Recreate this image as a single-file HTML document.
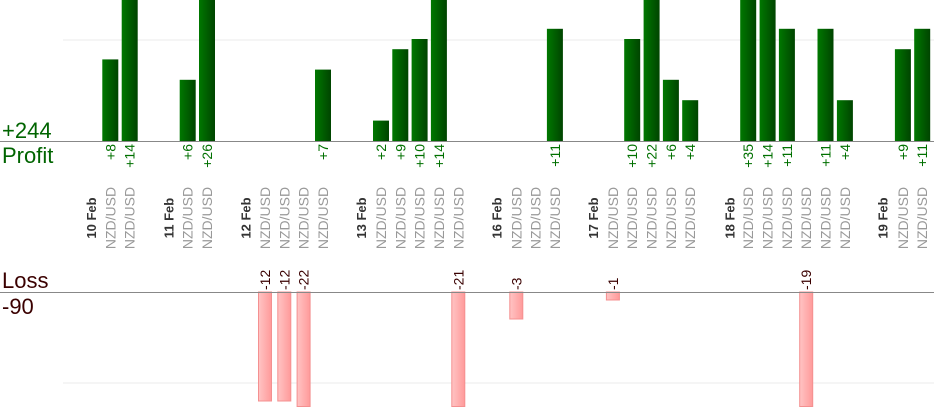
<!DOCTYPE html>
<html><head><meta charset="utf-8"><style>
html,body{margin:0;padding:0;background:#fff;}
svg{display:block;font-family:"Liberation Sans",sans-serif;}
.p{fill:#007000;font-size:14px;}
.l{fill:#3a0000;font-size:14px;}
.d{fill:#333;font-size:13px;font-weight:bold;}
.n{fill:#999;font-size:14px;}
</style></head><body>
<svg width="934" height="420" viewBox="0 0 934 420">
<defs>
<linearGradient id="g" x1="0" x2="1" y1="0" y2="0"><stop offset="0" stop-color="#007800"/><stop offset="1" stop-color="#004400"/></linearGradient>
<linearGradient id="r" x1="0" x2="1" y1="0" y2="0"><stop offset="0" stop-color="#ffc4c4"/><stop offset="1" stop-color="#ff9a9a"/></linearGradient>
</defs>
<line x1="63" y1="40" x2="934" y2="40" stroke="#ebebeb"/>
<line x1="63" y1="383" x2="934" y2="383" stroke="#ebebeb"/>
<g fill="url(#g)">
<rect x="102.3" y="59.4" width="16" height="81.6"/>
<rect x="121.7" y="0" width="16" height="141"/>
<rect x="179.7" y="79.8" width="16" height="61.2"/>
<rect x="199" y="0" width="16" height="141"/>
<rect x="315" y="69.6" width="16" height="71.4"/>
<rect x="373" y="120.6" width="16" height="20.4"/>
<rect x="392.3" y="49.2" width="16" height="91.8"/>
<rect x="411.6" y="39" width="16" height="102"/>
<rect x="430.9" y="0" width="16" height="141"/>
<rect x="546.9" y="28.8" width="16" height="112.2"/>
<rect x="624.2" y="39" width="16" height="102"/>
<rect x="643.6" y="0" width="16" height="141"/>
<rect x="662.9" y="79.8" width="16" height="61.2"/>
<rect x="682.2" y="100.2" width="16" height="40.8"/>
<rect x="740.2" y="0" width="16" height="141"/>
<rect x="759.6" y="0" width="16" height="141"/>
<rect x="778.9" y="28.8" width="16" height="112.2"/>
<rect x="817.5" y="28.8" width="16" height="112.2"/>
<rect x="836.9" y="100.2" width="16" height="40.8"/>
<rect x="894.9" y="49.2" width="16" height="91.8"/>
<rect x="914.2" y="28.8" width="16" height="112.2"/>
</g>
<g fill="url(#r)" stroke="#f49090" stroke-width="1">
<rect x="258.5" y="292" width="13" height="109"/>
<rect x="277.8" y="292" width="13" height="109"/>
<rect x="297.1" y="292" width="13" height="114.5"/>
<rect x="451.8" y="292" width="13" height="114.5"/>
<rect x="509.8" y="292" width="13" height="27"/>
<rect x="606.4" y="292" width="13" height="8"/>
<rect x="799.7" y="292" width="13" height="114.5"/>
</g>
<line x1="0" y1="141.5" x2="934" y2="141.5" stroke="#888"/>
<line x1="0" y1="292.5" x2="934" y2="292.5" stroke="#888"/>
<text x="2" y="138" fill="#006400" font-size="22">+244</text>
<text x="2" y="163" fill="#006400" font-size="22">Profit</text>
<text x="2" y="288" fill="#3a0000" font-size="22">Loss</text>
<text x="2" y="314" fill="#3a0000" font-size="22">-90</text>
<g class="p" text-anchor="end">
<text transform="translate(115.3,144) rotate(-90)">+8</text>
<text transform="translate(134.7,144) rotate(-90)">+14</text>
<text transform="translate(192.7,144) rotate(-90)">+6</text>
<text transform="translate(212,144) rotate(-90)">+26</text>
<text transform="translate(328,144) rotate(-90)">+7</text>
<text transform="translate(386,144) rotate(-90)">+2</text>
<text transform="translate(405.3,144) rotate(-90)">+9</text>
<text transform="translate(424.6,144) rotate(-90)">+10</text>
<text transform="translate(443.9,144) rotate(-90)">+14</text>
<text transform="translate(559.9,144) rotate(-90)">+11</text>
<text transform="translate(637.2,144) rotate(-90)">+10</text>
<text transform="translate(656.6,144) rotate(-90)">+22</text>
<text transform="translate(675.9,144) rotate(-90)">+6</text>
<text transform="translate(695.2,144) rotate(-90)">+4</text>
<text transform="translate(753.2,144) rotate(-90)">+35</text>
<text transform="translate(772.6,144) rotate(-90)">+14</text>
<text transform="translate(791.9,144) rotate(-90)">+11</text>
<text transform="translate(830.5,144) rotate(-90)">+11</text>
<text transform="translate(849.9,144) rotate(-90)">+4</text>
<text transform="translate(907.9,144) rotate(-90)">+9</text>
<text transform="translate(927.2,144) rotate(-90)">+11</text>
</g>
<g class="l">
<text transform="translate(270,290) rotate(-90)">-12</text>
<text transform="translate(289.3,290) rotate(-90)">-12</text>
<text transform="translate(308.6,290) rotate(-90)">-22</text>
<text transform="translate(463.3,290) rotate(-90)">-21</text>
<text transform="translate(521.3,290) rotate(-90)">-3</text>
<text transform="translate(617.9,290) rotate(-90)">-1</text>
<text transform="translate(811.2,290) rotate(-90)">-19</text>
</g>
<g text-anchor="middle">
<text class="d" transform="translate(96,218) rotate(-90)">10 Feb</text>
<text class="d" transform="translate(173.3,218) rotate(-90)">11 Feb</text>
<text class="d" transform="translate(250.7,218) rotate(-90)">12 Feb</text>
<text class="d" transform="translate(366.1,218) rotate(-90)">13 Feb</text>
<text class="d" transform="translate(501.4,218) rotate(-90)">16 Feb</text>
<text class="d" transform="translate(598.1,218) rotate(-90)">17 Feb</text>
<text class="d" transform="translate(734.3,218) rotate(-90)">18 Feb</text>
<text class="d" transform="translate(887.7,218) rotate(-90)">19 Feb</text>
<text class="n" transform="translate(115.3,218) rotate(-90)">NZD/USD</text>
<text class="n" transform="translate(134.7,218) rotate(-90)">NZD/USD</text>
<text class="n" transform="translate(192.7,218) rotate(-90)">NZD/USD</text>
<text class="n" transform="translate(212,218) rotate(-90)">NZD/USD</text>
<text class="n" transform="translate(270,218) rotate(-90)">NZD/USD</text>
<text class="n" transform="translate(289.3,218) rotate(-90)">NZD/USD</text>
<text class="n" transform="translate(308.6,218) rotate(-90)">NZD/USD</text>
<text class="n" transform="translate(328,218) rotate(-90)">NZD/USD</text>
<text class="n" transform="translate(386,218) rotate(-90)">NZD/USD</text>
<text class="n" transform="translate(405.3,218) rotate(-90)">NZD/USD</text>
<text class="n" transform="translate(424.6,218) rotate(-90)">NZD/USD</text>
<text class="n" transform="translate(443.9,218) rotate(-90)">NZD/USD</text>
<text class="n" transform="translate(463.3,218) rotate(-90)">NZD/USD</text>
<text class="n" transform="translate(521.3,218) rotate(-90)">NZD/USD</text>
<text class="n" transform="translate(540.6,218) rotate(-90)">NZD/USD</text>
<text class="n" transform="translate(559.9,218) rotate(-90)">NZD/USD</text>
<text class="n" transform="translate(617.9,218) rotate(-90)">NZD/USD</text>
<text class="n" transform="translate(637.2,218) rotate(-90)">NZD/USD</text>
<text class="n" transform="translate(656.6,218) rotate(-90)">NZD/USD</text>
<text class="n" transform="translate(675.9,218) rotate(-90)">NZD/USD</text>
<text class="n" transform="translate(695.2,218) rotate(-90)">NZD/USD</text>
<text class="n" transform="translate(753.2,218) rotate(-90)">NZD/USD</text>
<text class="n" transform="translate(772.6,218) rotate(-90)">NZD/USD</text>
<text class="n" transform="translate(791.9,218) rotate(-90)">NZD/USD</text>
<text class="n" transform="translate(811.2,218) rotate(-90)">NZD/USD</text>
<text class="n" transform="translate(830.5,218) rotate(-90)">NZD/USD</text>
<text class="n" transform="translate(849.9,218) rotate(-90)">NZD/USD</text>
<text class="n" transform="translate(907.9,218) rotate(-90)">NZD/USD</text>
<text class="n" transform="translate(927.2,218) rotate(-90)">NZD/USD</text>
</g>
</svg>
</body></html>
